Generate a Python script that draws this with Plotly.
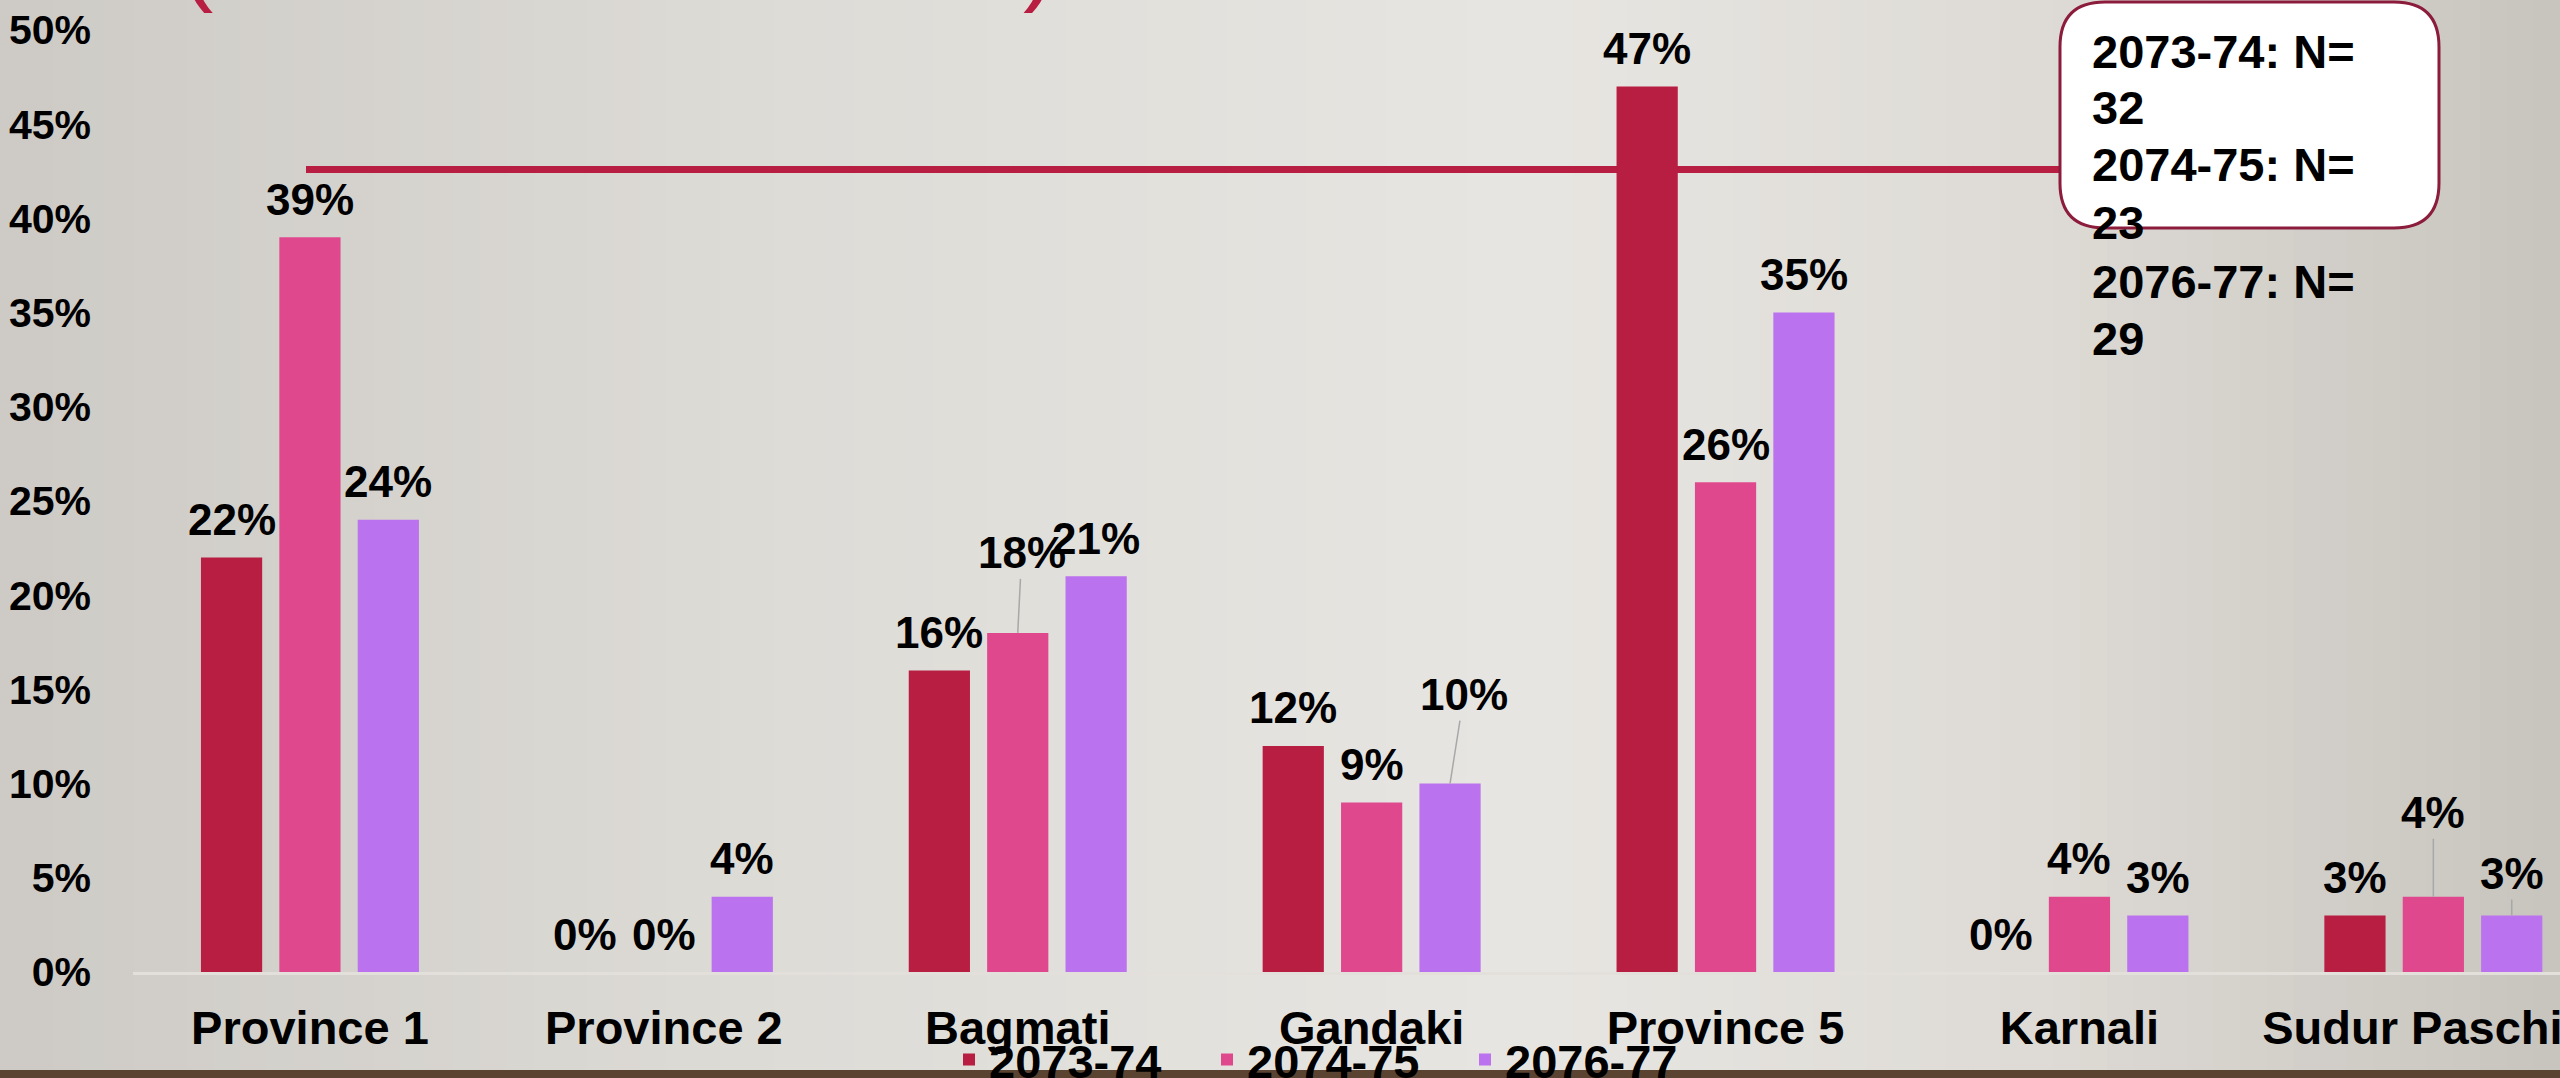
import numpy as np
import plotly.graph_objects as go

# ---------------- data ----------------
provinces = ["Province 1", "Province 2", "Bagmati", "Gandaki", "Province 5", "Karnali", "Sudur Paschim"]
years = ["2073-74", "2074-75", "2076-77"]
share_2073_74 = [22, 0, 16, 12, 47, 0, 3]
share_2074_75 = [39, 0, 18, 9, 26, 4, 4]
share_2076_77 = [24, 4, 21, 10, 35, 3, 3]
sample_n = [32, 23, 29]
y_tick_values = [0, 5, 10, 15, 20, 25, 30, 35, 40, 45, 50]
y_tick_labels = [f"{v}%" for v in y_tick_values]

series = [share_2073_74, share_2074_75, share_2076_77]
colors = ["#b81d42", "#e0488e", "#bb72ee"]

# ---------------- geometry ----------------
FIG_W, FIG_H = 2560, 1078
L, R, T, Bm = 133, 0, 30, 106
PW = FIG_W - L - R
PH = FIG_H - T - Bm
PLOT_BOTTOM = FIG_H - Bm


def fx(sx):
    """pixel x -> paper fraction"""
    return (sx - L) / PW


def fy(sy):
    """pixel y -> paper fraction"""
    return (PLOT_BOTTOM - sy) / PH


FONT = "Liberation Sans, Arial, sans-serif"
BARGAP = 0.3355
SLOT = (1 - BARGAP) / 3
X_RANGE = [-0.5, -0.5 + PW / 353.9]

fig = go.Figure()
for name, vals, col in zip(years, series, colors):
    fig.add_trace(go.Bar(
        x=provinces, y=vals, name=name,
        marker=dict(color=col, line=dict(width=0)),
        hoverinfo="x+y+name",
    ))

# data labels (some with leader lines)
leader = {(1, 2): (4, -80), (2, 3): (14, -89), (1, 6): (0, -84), (2, 6): (0, -42)}
annotations = []
for k, vals in enumerate(series):
    for i, v in enumerate(vals):
        xpos = i + (k - 1) * SLOT
        lab_font = dict(family=FONT, size=44, color="black", weight="bold")
        if (k, i) in leader:
            ax, ay = leader[(k, i)]
            annotations.append(dict(
                x=xpos, y=v, xref="x", yref="y", text=f"{v}%",
                showarrow=True, arrowhead=0, arrowwidth=1.5, arrowcolor="#a8a8a8",
                ax=ax, ay=ay, standoff=0, font=lab_font,
            ))
        else:
            annotations.append(dict(
                x=xpos, y=v, xref="x", yref="y", text=f"{v}%",
                showarrow=False, yanchor="middle", yshift=38, font=lab_font,
            ))

# N box text
lines = []
for yr, n in zip(years, sample_n):
    lines += [f"{yr}: N=", f"{n}"]
line_y = [51, 108, 165, 223, 281, 338]
for txt, ly in zip(lines, line_y):
    annotations.append(dict(
        x=fx(2090), y=fy(ly), xref="paper", yref="paper", text=txt,
        showarrow=False, xanchor="left", yanchor="middle",
        font=dict(family=FONT, size=47, color="black", weight="bold"),
    ))

# cut-off title parentheses
for txt, px in [("(", 196), (")", 1039)]:
    annotations.append(dict(
        x=fx(px), y=fy(15), xref="paper", yref="paper", text=txt,
        showarrow=False, xanchor="center", yanchor="bottom",
        font=dict(family=FONT, size=100, color="#b81d42"),
    ))

shapes = []
# background gradient bands
stops = [(0.0, (206, 203, 198)), (0.3, (222, 220, 215)), (0.6, (232, 230, 226)),
         (0.8, (222, 219, 214)), (1.0, (200, 197, 191))]
N_BANDS = 96
sxs = np.array([s[0] for s in stops])
for b in range(N_BANDS):
    t = (b + 0.5) / N_BANDS
    c = [int(np.interp(t, sxs, [s[1][j] for s in stops])) for j in range(3)]
    shapes.append(dict(
        type="rect", xref="paper", yref="paper", layer="below",
        x0=fx(FIG_W * b / N_BANDS), x1=fx(FIG_W * (b + 1) / N_BANDS + 1),
        y0=fy(FIG_H), y1=fy(0), line=dict(width=0),
        fillcolor=f"rgb({c[0]},{c[1]},{c[2]})",
    ))
# wood strip at the bottom
shapes.append(dict(type="rect", xref="paper", yref="paper", layer="below",
                   x0=fx(0), x1=fx(FIG_W), y0=fy(FIG_H), y1=fy(1070),
                   line=dict(width=0), fillcolor="#5b4332"))
# red callout line
shapes.append(dict(type="line", xref="paper", yref="paper", layer="below",
                   x0=fx(306), x1=fx(2062), y0=fy(169.5), y1=fy(169.5),
                   line=dict(color="#b81d42", width=7)))
# rounded box
bx0, bx1, by0, by1, r = 2060, 2439, 2, 228, 45
pts = [
    ("M", (bx0 + r, by0)), ("L", (bx1 - r, by0)), ("Q", (bx1, by0), (bx1, by0 + r)),
    ("L", (bx1, by1 - r)), ("Q", (bx1, by1), (bx1 - r, by1)),
    ("L", (bx0 + r, by1)), ("Q", (bx0, by1), (bx0, by1 - r)),
    ("L", (bx0, by0 + r)), ("Q", (bx0, by0), (bx0 + r, by0)),
]
path = ""
for p in pts:
    coords = " ".join(f"{fx(a):.5f},{fy(b):.5f}" for a, b in p[1:])
    path += f"{p[0]}{coords} "
path += "Z"
shapes.append(dict(type="path", xref="paper", yref="paper", layer="above", path=path,
                   fillcolor="white", line=dict(color="#8c1c3c", width=3)))

fig.update_layout(
    width=FIG_W, height=FIG_H,
    margin=dict(l=L, r=R, t=T, b=Bm),
    paper_bgcolor="#dedbd6", plot_bgcolor="rgba(0,0,0,0)",
    barmode="group", bargap=BARGAP, bargroupgap=0.219,
    font=dict(family=FONT, color="black"),
    xaxis=dict(
        type="category", range=X_RANGE, showgrid=False, zeroline=False,
        showline=True, linecolor="#e3e0db", linewidth=3, automargin=False,
        tickfont=dict(family=FONT, size=47, color="black", weight="bold"),
        ticklabelstandoff=13, fixedrange=True,
    ),
    yaxis=dict(
        range=[0, 50], tickvals=y_tick_values, ticktext=y_tick_labels,
        showgrid=False, zeroline=False, showline=False, automargin=False,
        tickfont=dict(family=FONT, size=41, color="black", weight="bold"),
        ticklabelstandoff=41, ticklabeloverflow="allow", fixedrange=True,
    ),
    legend=dict(
        orientation="h", xref="container", yref="container",
        x=949 / FIG_W, xanchor="left", y=(FIG_H - 1060) / FIG_H, yanchor="middle",
        bgcolor="rgba(0,0,0,0)", entrywidth=213, entrywidthmode="pixels",
        font=dict(family=FONT, size=47, color="black", weight="bold"),
        traceorder="normal",
    ),
    annotations=annotations,
    shapes=shapes,
    showlegend=True,
)

fig.write_html(
    "out.html",
    config={"displayModeBar": False},
    post_script=(
        "[document.documentElement, document.body].forEach(function(e){"
        "e.style.margin='0px';e.style.padding='0px';e.style.overflow='hidden';});"
    ),
)
